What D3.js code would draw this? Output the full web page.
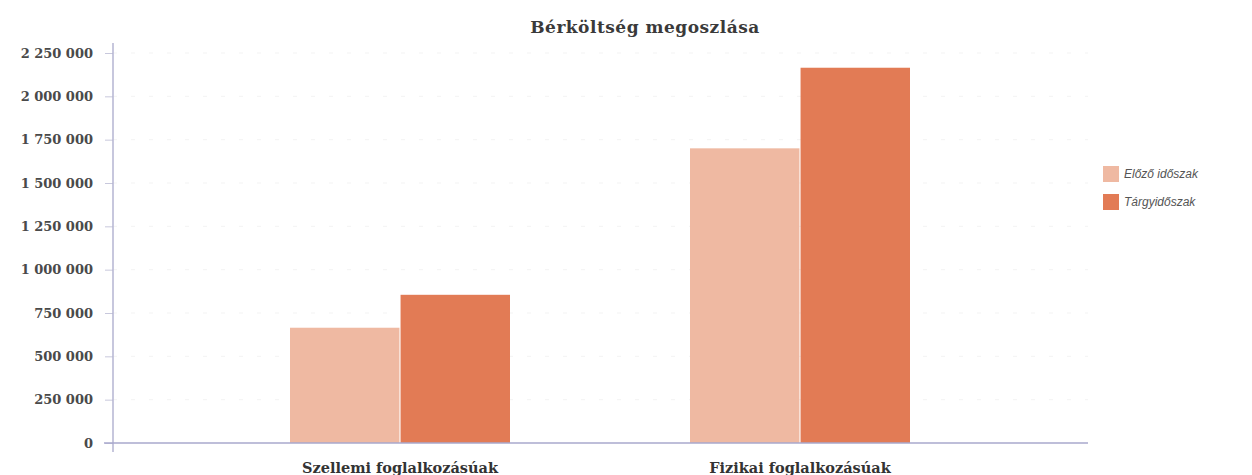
<!DOCTYPE html>
<html>
<head>
<meta charset="utf-8">
<script src="https://cdn.jsdelivr.net/npm/d3@7"></script>
<style>
body { margin: 0; background: #fff; }
svg { display: block; }
</style>
</head>
<body>
<svg width="1252" height="475"></svg>
<script>
var categories = ["Szellemi foglalkozásúak", "Fizikai foglalkozásúak"];
var seriesNames = ["Előző időszak", "Tárgyidőszak"];
var elozo = [665000, 1700000];
var targy = [855000, 2165000];
var yTicks = [0, 250000, 500000, 750000, 1000000, 1250000, 1500000, 1750000, 2000000, 2250000];
var colors = ["#efb9a2", "#e27b55"];

var data = categories.map((c, i) => ({cat: c, vals: [elozo[i], targy[i]]}));

var svg = d3.select("svg");

var yScale = d3.scaleLinear().domain([0, 2250000]).range([443, 53]);
var xScale = d3.scaleBand().domain(categories).range([200, 1000])
  .paddingInner(0.45).paddingOuter(0.225);
var xSub = d3.scaleBand().domain(seriesNames).range([0, xScale.bandwidth()]).paddingInner(0.01);

var fmt = d => d3.format(",")(d).replace(/,/g, " ");
var serif = "DejaVu Serif, serif";

// faint grid
svg.append("g").selectAll("line")
  .data(yTicks.slice(1))
  .enter().append("line")
  .attr("x1", 113).attr("x2", 1088)
  .attr("y1", d => yScale(d)).attr("y2", d => yScale(d))
  .attr("stroke", "#f3f3f3")
  .attr("stroke-dasharray", "4,14");

// title
svg.append("text")
  .attr("x", 645).attr("y", 33)
  .attr("text-anchor", "middle")
  .attr("font-family", serif)
  .attr("font-weight", "bold")
  .attr("font-size", 17)
  .attr("letter-spacing", 0.5)
  .attr("fill", "#3a3a3a")
  .text("Bérköltség megoszlása");

// bars
var groups = svg.selectAll(".grp")
  .data(data)
  .enter().append("g")
  .attr("class", "grp")
  .attr("transform", d => "translate(" + xScale(d.cat) + ",0)");

groups.selectAll("rect")
  .data(d => d.vals.map((v, i) => ({key: seriesNames[i], v: v, i: i})))
  .enter().append("rect")
  .attr("x", d => xSub(d.key))
  .attr("y", d => yScale(d.v))
  .attr("width", xSub.bandwidth())
  .attr("height", d => yScale(0) - yScale(d.v))
  .attr("fill", d => colors[d.i]);

// y axis
var yAxis = d3.axisLeft(yScale).tickValues(yTicks).tickFormat(fmt).tickSize(8).tickPadding(12);
var yg = svg.append("g").attr("transform", "translate(113,0)").call(yAxis);
yg.select(".domain").remove();
yg.selectAll(".tick line").attr("stroke", "#c8c8dc");
yg.selectAll(".tick text")
  .attr("font-family", serif)
  .attr("font-weight", "bold")
  .attr("font-size", 13)
  .attr("fill", "#4a4a4a");
svg.append("line")
  .attr("x1", 113).attr("x2", 113)
  .attr("y1", 43).attr("y2", 452)
  .attr("stroke", "#b4b4d2").attr("stroke-width", 1.5);

// x axis
var xAxis = d3.axisBottom(xScale).tickSize(0).tickPadding(20);
var xg = svg.append("g").attr("transform", "translate(0," + yScale(0) + ")").call(xAxis);
xg.select(".domain").remove();
xg.selectAll(".tick text")
  .attr("font-family", serif)
  .attr("font-weight", "bold")
  .attr("font-size", 14.5)
  .attr("fill", "#333");
svg.append("line")
  .attr("x1", 104).attr("x2", 1088)
  .attr("y1", yScale(0)).attr("y2", yScale(0))
  .attr("stroke", "#a8a8cc").attr("stroke-width", 1.5);

// legend
var legend = svg.selectAll(".leg")
  .data(seriesNames)
  .enter().append("g")
  .attr("class", "leg")
  .attr("transform", (d, i) => "translate(1103," + (166 + i * 28) + ")");
legend.append("rect")
  .attr("width", 16).attr("height", 16)
  .attr("fill", (d, i) => colors[i]);
legend.append("text")
  .attr("x", 21).attr("y", 12)
  .attr("font-family", "Liberation Sans, sans-serif")
  .attr("font-style", "italic")
  .attr("font-size", 12)
  .attr("fill", "#555")
  .text(d => d);
</script>
</body>
</html>
